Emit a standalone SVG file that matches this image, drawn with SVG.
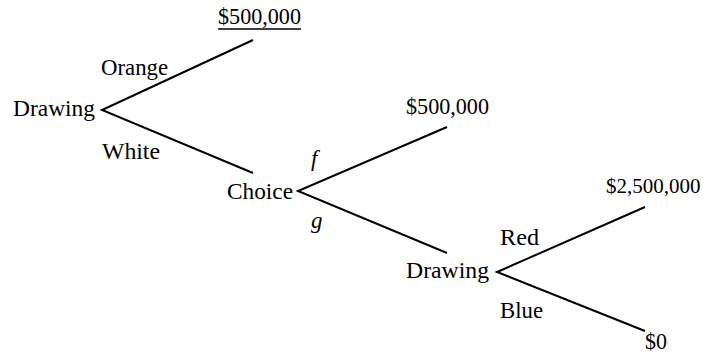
<svg xmlns="http://www.w3.org/2000/svg" width="703" height="353" viewBox="0 0 703 353">
<style>
text{font-family:"Liberation Serif","Times New Roman",serif;font-size:23px;fill:#000}
.it{font-style:italic}
.br{stroke:#000;stroke-width:2;fill:none;stroke-linecap:butt}
</style>
<rect width="703" height="353" fill="#fff"/>
<g id="connectors">
<path class="br" d="M253,40 L102,110 L253,173"/>
<path class="br" d="M447,127 L298,191 L447,253"/>
<path class="br" d="M645,207 L497,272 L645,331"/>
</g>
<g id="drawing1"><text x="13" y="116" textLength="82" lengthAdjust="spacingAndGlyphs">Drawing</text></g>
<g id="payoff1"><text x="218" y="24" textLength="83" lengthAdjust="spacingAndGlyphs">$500,000</text><line x1="218" y1="29" x2="301" y2="29" stroke="#000" stroke-width="1.5"/></g>
<g id="label-orange"><text x="101" y="75" textLength="67" lengthAdjust="spacingAndGlyphs">Orange</text></g>
<g id="label-white"><text x="102" y="159" textLength="58" lengthAdjust="spacingAndGlyphs">White</text></g>
<g id="choice"><text x="227" y="199" textLength="66" lengthAdjust="spacingAndGlyphs">Choice</text></g>
<g id="label-f"><text class="it" x="311" y="166">f</text></g>
<g id="label-g"><text class="it" x="311" y="228">g</text></g>
<g id="payoff2"><text x="406" y="114" textLength="83" lengthAdjust="spacingAndGlyphs">$500,000</text></g>
<g id="drawing2"><text x="406" y="278" textLength="83" lengthAdjust="spacingAndGlyphs">Drawing</text></g>
<g id="label-red"><text x="500" y="245" textLength="39" lengthAdjust="spacingAndGlyphs">Red</text></g>
<g id="label-blue"><text x="500" y="318" textLength="43" lengthAdjust="spacingAndGlyphs">Blue</text></g>
<g id="payoff3"><text x="606" y="193" style="font-size:21px">$2,500,000</text></g>
<g id="payoff4"><text x="645" y="349" textLength="22" lengthAdjust="spacingAndGlyphs">$0</text></g>
</svg>
